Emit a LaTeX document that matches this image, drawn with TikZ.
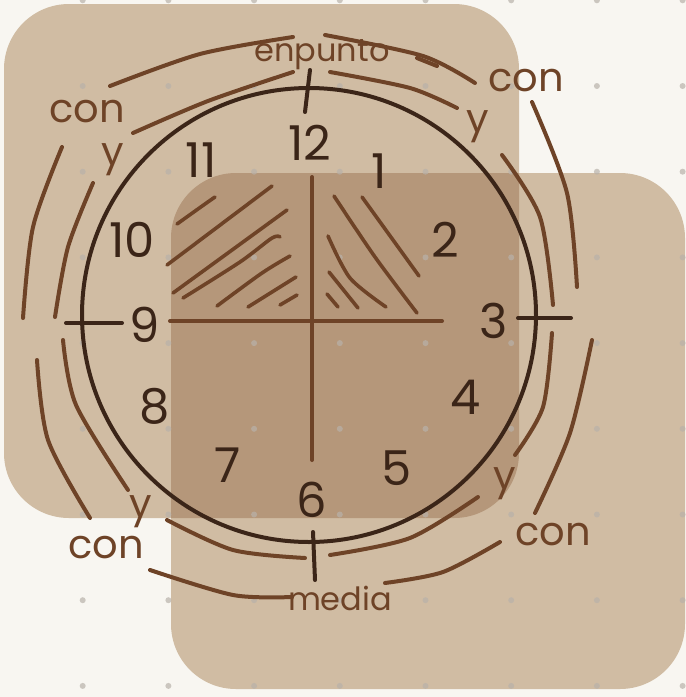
\documentclass[tikz,border=0pt]{standalone}
\usepackage{fontspec}
\newfontfamily\handfont{Poppins}
\definecolor{paper}{HTML}{F8F6F1}
\definecolor{tan}{HTML}{D0BCA3}
\definecolor{darktan}{HTML}{B5977A}
\definecolor{ink}{HTML}{3B2518}
\definecolor{rust}{HTML}{6E4327}
\definecolor{dotgray}{HTML}{B8B2AA}

\begin{document}
\begin{tikzpicture}[x=0.5pt, y=-0.5pt,
      card/.style={fill=tan, rounded corners=32.5pt},
      ring/.style={draw=rust, line width=2pt, line cap=round, line join=round},
      hatch/.style={draw=rust, line width=1.8pt, line cap=round},
      tickmark/.style={draw=ink, line width=2pt, line cap=round},
      num/.style={text=ink, inner sep=0pt, font=\handfont\fontsize{24}{24}\selectfont},
      word/.style={text=rust, inner sep=0pt, font=\handfont\fontsize{20}{20}\selectfont},
      small/.style={word, font=\handfont\fontsize{16}{16}\selectfont}]
    \useasboundingbox[fill=paper] (0,0) rectangle (686,697);
    % two cards and their overlap
    \fill[card] (4,4) rectangle (519,518);
    \fill[card] (171,173) rectangle (685,689);
    \begin{scope}
      \clip[rounded corners=32.5pt] (4,4) rectangle (519,518);
      \fill[darktan, rounded corners=32.5pt] (171,173) rectangle (685,689);
    \end{scope}
    % dotted grid
    \foreach \i in {0,...,7}
      \foreach \j in {0,...,8}
        \fill[dotgray, opacity=.7] (82.7+85.7*\i, 0.3+85.7*\j) circle[radius=3];
    % quarter lines and hatching
    \draw[hatch, line width=2pt] (312,177) -- (312,460);
    \draw[hatch, line width=2pt] (170,321) -- (442,321);
    \draw[hatch] plot[smooth] coordinates {(177,224) (205,204) (215,197)};
    \draw[hatch] (167,265) -- (272,186);
    \draw[hatch] (173,293) -- (287,210);
    \draw[hatch] plot[smooth] coordinates {(183,298) (240,262) (272,238) (280,237)};
    \draw[hatch] plot[smooth] coordinates {(217,306) (262,273) (290,256)};
    \draw[hatch] (248,307) -- (296,277);
    \draw[hatch] (280,305) -- (297,295);
    \draw[hatch] plot[smooth] coordinates {(334,196) (375,257) (417,313)};
    \draw[hatch] (362,197) -- (419,276);
    \draw[hatch] plot[smooth] coordinates {(328,236) (350,278) (386,307)};
    \draw[hatch] (329,272) -- (358,308);
    \draw[hatch] (327,294) -- (338,307);
    % clock face
    \coordinate (c) at (309,315);
    \draw[ink, line width=2pt] (c) circle[radius=227];
    \draw[tickmark] (310,70) -- (305,112);
    \draw[tickmark] (66,323) -- (122,323);
    \draw[tickmark] (518,318) -- (571,318);
    \draw[tickmark] (313,532) -- (315,580);
    \foreach \t/\x/\y in {12/310/143, 1/379/171, 2/445/240, 3/494/321, 4/466/397, 5/397/468,
                          6/312/500, 7/228/465, 8/155/406, 9/145/325, 10/132/240, 11/201/160}
      \node[num] (n\t) at (\x,\y) {\t};
    % labels
    \node[small] (enpunto) at (322,55) {enpunto};
    \node[small] (media) at (340,598) {media};
    \node[word] (conNW) at (87,112) {con};
    \node[word] (yNW) at (113,160) {y};
    \node[word] (conNE) at (526,81) {con};
    \node[word] (yNE) at (478,127) {y};
    \node[word] (ySE) at (505,484) {y};
    \node[word] (conSE) at (553,535) {con};
    \node[word] (ySW) at (141,512) {y};
    \node[word] (conSW) at (106,548) {con};
    % inner ring
    \draw[ring] plot[smooth] coordinates {(133,133) (208,101) (293,72)};
    \draw[ring] plot[smooth] coordinates {(330,72) (410,88) (457,108)};
    \draw[ring] plot[smooth] coordinates {(502,155) (540,217) (553,305)};
    \draw[ring] plot[smooth] coordinates {(552,333) (543,407) (515,455)};
    \draw[ring] plot[smooth] coordinates {(478,497) (410,538) (330,555)};
    \draw[ring] plot[smooth] coordinates {(305,558) (233,550) (167,520)};
    \draw[ring] plot[smooth] coordinates {(128,490) (76,405) (63,340)};
    \draw[ring] plot[smooth] coordinates {(55,317) (68,247) (93,183)};
    % outer ring
    \draw[ring] plot[smooth] coordinates {(110,86) (200,54) (293,37)};
    \draw[ring] plot[smooth] coordinates {(325,35) (423,56) (475,83)};
    \draw[ring] (417,58) -- (437,66);
    \draw[ring] plot[smooth] coordinates {(532,102) (567,193) (577,287)};
    \draw[ring] plot[smooth] coordinates {(592,340) (570,433) (535,513)};
    \draw[ring] plot[smooth] coordinates {(500,542) (443,572) (385,583)};
    \draw[ring] plot[smooth] coordinates {(292,597) (233,595) (150,570)};
    \draw[ring] plot[smooth] coordinates {(90,518) (48,440) (37,360)};
    \draw[ring] plot[smooth] coordinates {(23,318) (33,227) (62,147)};
  \end{tikzpicture}
\end{document}
